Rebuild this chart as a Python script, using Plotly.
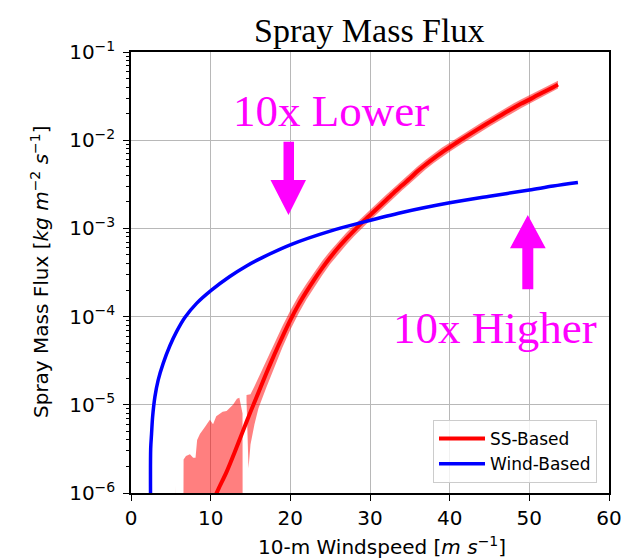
import numpy as np
import plotly.graph_objects as go

# ---------------- data ----------------
# Wind-Based curve: 10-m windspeed [m/s] and log10 of spray mass flux
wind_x = [2.46, 2.47, 2.58, 2.71, 3.0, 3.41, 4.04, 4.88, 5.72, 6.76, 8.23, 10.1,
          12.4, 14.5, 16.6, 20.15, 25.0, 29.1, 34.0, 40.0, 45.0, 50.0, 53.0, 56.1]
wind_log10 = [-6.2, -5.5, -5.33, -5.14, -4.91, -4.72, -4.53, -4.33, -4.17, -4.01, -3.85, -3.70,
              -3.545, -3.425, -3.325, -3.18, -3.03, -2.93, -2.82, -2.71, -2.635, -2.565, -2.52, -2.48]

# SS-Based curve (centre line)
ss_x = [10.5, 11, 12, 13, 14, 15, 16, 17, 18, 19, 20, 21, 22, 23, 24, 25, 26, 27, 28, 29,
        30, 31, 32, 33, 34, 35, 36, 37, 38, 39, 40, 41, 42, 43, 44, 45, 46, 47, 48, 49,
        50, 51, 52, 53, 53.6]
ss_log10 = [-6.05, -5.95, -5.76, -5.54, -5.31, -5.08, -4.86, -4.64, -4.43, -4.23,
            -4.04, -3.87, -3.72, -3.58, -3.45, -3.33, -3.22, -3.12, -3.025, -2.935,
            -2.85, -2.765, -2.68, -2.595, -2.515, -2.435, -2.35, -2.275, -2.205, -2.14,
            -2.08, -2.02, -1.962, -1.905, -1.85, -1.795, -1.74, -1.687, -1.635, -1.585,
            -1.54, -1.49, -1.445, -1.40, -1.37]

# SS-Based spread band (main part)
band_x = [14.5, 14.75, 15, 15.5, 16, 17, 18, 19, 20, 21, 22, 23, 24, 25, 26, 27, 28, 29,
          30, 31, 32, 33, 34, 35, 36, 37, 38, 39, 40, 41, 42, 43, 44, 45, 46, 47, 48, 49,
          50, 51, 52, 53, 53.6]
band_upper_log10 = [-4.89, -4.885, -4.88, -4.79, -4.69, -4.49, -4.30, -4.11, -3.93, -3.77, -3.63,
                    -3.495, -3.37, -3.255, -3.15, -3.053, -2.961, -2.873, -2.79, -2.706, -2.622,
                    -2.538, -2.459, -2.38, -2.295, -2.221, -2.152, -2.087, -2.028, -1.969, -1.912,
                    -1.855, -1.80, -1.745, -1.69, -1.637, -1.585, -1.536, -1.492, -1.443, -1.399,
                    -1.355, -1.325]
band_lower_log10 = [-4.95, -5.72, -5.45, -5.22, -5.04, -4.80, -4.57, -4.35, -4.15, -3.97, -3.81,
                    -3.665, -3.53, -3.405, -3.29, -3.187, -3.089, -2.997, -2.91, -2.824, -2.738,
                    -2.652, -2.571, -2.49, -2.405, -2.329, -2.258, -2.193, -2.132, -2.071, -2.012,
                    -1.955, -1.90, -1.845, -1.79, -1.737, -1.685, -1.634, -1.588, -1.537, -1.491,
                    -1.445, -1.415]

# SS-Based spread band (noisy low-wind part; lower bound is below the axis)
jag_x = [5.55, 5.62, 5.7, 6.55, 6.6, 6.9, 7.4, 7.8, 8.1, 8.3, 8.65, 9.3, 9.9, 10.3, 10.7,
         11.5, 12.0, 12.8, 13.3, 13.6, 13.9, 14.0, 14.02]
jag_upper_log10 = [-7.0, -5.92, -7.0, -7.0, -5.62, -5.58, -5.56, -5.6, -5.6, -5.4, -5.33, -5.25,
                   -5.17, -5.22, -5.13, -5.08, -5.07, -5.0, -4.93, -4.92, -5.08, -5.1, -7.0]
jag_lower_log10 = [-7.0] * len(jag_x)

x_ticks = [0, 10, 20, 30, 40, 50, 60]
y_ticks = [1e-6, 1e-5, 1e-4, 1e-3, 1e-2, 1e-1]
y_tick_text = ["10<sup>−6</sup>", "10<sup>−5</sup>", "10<sup>−4</sup>",
               "10<sup>−3</sup>", "10<sup>−2</sup>", "10<sup>−1</sup>"]
y_minor = [m * 10.0 ** k for k in range(-6, -1) for m in range(2, 10)]


def flux(v):
    return np.power(10.0, np.asarray(v, dtype=float))


# ---------------- geometry helpers (plot area in pixels) ----------------
L, R, T, B = 131, 609, 52, 493
W, H = R - L, B - T


def px(x):
    return (x - L) / W


def py(y):
    return (B - y) / H


BAND = "rgba(255,0,0,0.5)"

fig = go.Figure()

# band polygons
fig.add_trace(go.Scatter(
    x=jag_x + jag_x[::-1],
    y=np.concatenate([flux(jag_upper_log10), flux(jag_lower_log10[::-1])]),
    fill="toself", fillcolor=BAND, mode="lines", line=dict(width=0),
    hoverinfo="skip", showlegend=False))
fig.add_trace(go.Scatter(
    x=band_x + band_x[::-1],
    y=np.concatenate([flux(band_upper_log10), flux(band_lower_log10[::-1])]),
    fill="toself", fillcolor=BAND, mode="lines", line=dict(width=0),
    hoverinfo="skip", showlegend=False))

fig.add_trace(go.Scatter(x=ss_x, y=flux(ss_log10), mode="lines", name="SS-Based",
                         line=dict(color="#ff0000", width=4, shape="spline", smoothing=0.8)))
fig.add_trace(go.Scatter(x=wind_x, y=flux(wind_log10), mode="lines", name="Wind-Based",
                         line=dict(color="#0000ff", width=3.5, shape="spline", smoothing=0.9)))

axis_common = dict(
    showgrid=True, gridcolor="#b8b8b8", gridwidth=1.3,
    showline=True, linecolor="black", linewidth=1.5, mirror=True,
    ticks="outside", ticklen=6, tickwidth=1.3, tickcolor="black",
    zeroline=False, tickfont=dict(family="DejaVu Sans", size=20, color="black"),
)

fig.update_xaxes(range=[0, 60], tickvals=x_ticks, **axis_common)
fig.update_yaxes(type="log", range=[-6, -1], tickvals=y_ticks, ticktext=y_tick_text,
                 ticklabelstandoff=4,
                 minor=dict(tickvals=y_minor, ticks="outside", ticklen=3.5,
                            tickwidth=1, tickcolor="black", showgrid=False),
                 **axis_common)

MAG = "#ff00ff"


def poly(points):
    d = "M " + " L ".join(f"{px(a):.5f},{py(b):.5f}" for a, b in points) + " Z"
    return dict(type="path", path=d, xref="paper", yref="paper",
                fillcolor=MAG, line=dict(width=0), layer="above")


down_arrow = [(283.5, 141.7), (294, 141.7), (294, 180), (306, 180), (288.5, 215),
              (270.5, 180), (283.5, 180)]
up_arrow = [(522.3, 289.3), (533.3, 289.3), (533.3, 248.3), (545.7, 248.3), (527.8, 215),
            (510, 248.3), (522.3, 248.3)]

annotations = [
    dict(text="Spray Mass Flux", x=px(369), y=py(30), xref="paper", yref="paper",
         showarrow=False, xanchor="center", yanchor="middle",
         font=dict(family="Liberation Serif", size=34, color="black")),
    dict(text="10x Lower", x=px(330.5), y=py(111), xref="paper", yref="paper",
         showarrow=False, xanchor="center", yanchor="middle",
         font=dict(family="Liberation Serif", size=45, color=MAG)),
    dict(text="10x Higher", x=px(495), y=py(328), xref="paper", yref="paper",
         showarrow=False, xanchor="center", yanchor="middle",
         font=dict(family="Liberation Serif", size=45, color=MAG)),
    dict(text="10-m Windspeed [<i>m</i> <i>s</i><sup>−1</sup>]", x=px(382), y=py(546),
         xref="paper", yref="paper", showarrow=False, xanchor="center", yanchor="middle",
         font=dict(family="DejaVu Sans", size=20, color="black")),
    dict(text="Spray Mass Flux [<i>kg</i> <i>m</i><sup>−2</sup> <i>s</i><sup>−1</sup>]",
         x=px(40), y=py(272), xref="paper", yref="paper", showarrow=False,
         xanchor="center", yanchor="middle", textangle=-90,
         font=dict(family="DejaVu Sans", size=20, color="black")),
]

fig.update_layout(
    width=641, height=560,
    margin=dict(l=L, r=641 - R, t=T, b=560 - B),
    paper_bgcolor="white", plot_bgcolor="white",
    font=dict(family="DejaVu Sans", size=20, color="black"),
    showlegend=True,
    legend=dict(x=px(433), xanchor="left", y=py(483), yanchor="bottom",
                bgcolor="rgba(255,255,255,0.8)", bordercolor="#cccccc", borderwidth=1,
                font=dict(family="DejaVu Sans", size=17, color="black"),
                itemwidth=46, tracegroupgap=0),
    shapes=[poly(down_arrow), poly(up_arrow)],
    annotations=annotations,
)

fig.write_html("out.html")
